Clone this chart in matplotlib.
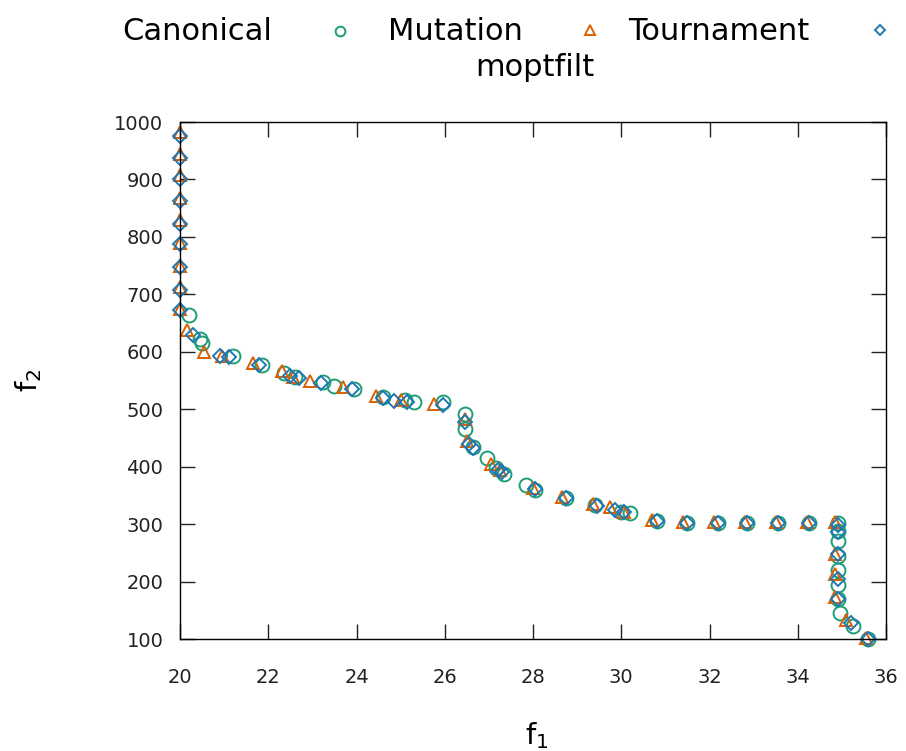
import matplotlib
matplotlib.use("Agg")
import matplotlib.pyplot as plt

# Canonical (circles)
can_x = [20.2, 20.45, 20.5, 21.2, 21.85, 22.35, 22.6, 23.25, 23.5, 23.95, 24.6, 25.1, 25.3,
         25.95, 26.45, 26.45, 26.65, 26.95, 27.15, 27.35, 27.85, 28.05, 28.75, 29.4, 30.0,
         30.2, 30.8, 31.5, 32.2, 32.85, 33.55, 34.25, 34.9, 34.9, 34.9, 34.9, 34.9, 34.9,
         34.9, 34.95, 35.25, 35.6]
can_y = [665, 622, 615, 592, 577, 563, 556, 548, 540, 535, 522, 517, 513,
         512, 492, 466, 435, 415, 398, 388, 368, 360, 345, 333, 322,
         320, 305, 302, 302, 302, 302, 302, 302, 288, 270, 245, 220, 195,
         170, 145, 122, 100]

# Mutation (triangles)
mut_x = [20.0, 20.0, 20.0, 20.0, 20.0, 20.0, 20.0, 20.0, 20.0, 20.15, 20.55, 20.95, 21.65,
         22.3, 22.55, 22.95, 23.7, 24.45, 25.0, 25.75, 26.45, 26.5, 27.05, 27.25, 28.0,
         28.65, 29.35, 29.75, 30.05, 30.7, 31.4, 32.1, 32.8, 33.5, 34.2, 34.85, 34.85,
         34.85, 34.85, 35.1, 35.55]
mut_y = [982, 945, 907, 867, 830, 790, 750, 712, 674, 638, 600, 592, 580,
         566, 557, 549, 538, 524, 517, 510, 483, 445, 405, 395, 363,
         348, 336, 330, 322, 307, 303, 303, 303, 303, 303, 303, 248,
         213, 173, 133, 102]

# Tournament (diamonds)
tou_x = [20.0, 20.0, 20.0, 20.0, 20.0, 20.0, 20.0, 20.0, 20.0, 20.3, 20.9, 21.1, 21.8,
         22.5, 22.7, 23.2, 23.9, 24.6, 24.85, 25.15, 25.95, 26.45, 26.55, 26.65, 27.2,
         27.3, 28.05, 28.75, 29.45, 29.85, 30.05, 30.8, 31.5, 32.2, 32.85, 33.55, 34.25,
         34.9, 34.9, 34.9, 34.9, 34.9, 35.2, 35.6]
tou_y = [975, 938, 900, 862, 822, 787, 747, 708, 672, 630, 592, 591, 577,
         558, 554, 546, 535, 520, 515, 512, 508, 478, 440, 432, 395,
         390, 362, 345, 332, 325, 322, 305, 302, 302, 302, 302, 302,
         298, 287, 248, 205, 170, 128, 100]

labels = ["Canonical", "Mutation", "Tournament", "moptfilt"]
colors = ["#1b9e77", "#d95f02", "#1f78b4"]

fig = plt.figure(figsize=(9.06, 7.51), dpi=100)
ax = fig.add_axes([0.1987, 0.149, 0.7793, 0.6885])

ax.plot(can_x, can_y, "o", ms=10, mfc="none", mec=colors[0], mew=1.4, clip_on=False)
ax.plot(mut_x, mut_y, "^", ms=9, mfc="none", mec=colors[1], mew=1.4, clip_on=False)
ax.plot(tou_x, tou_y, "D", ms=7, mfc="none", mec=colors[2], mew=1.4, clip_on=False)

ax.set_xlim(20, 36)
ax.set_ylim(100, 1000)
ax.set_xticks(range(20, 37, 2))
ax.set_yticks(range(100, 1001, 100))
ax.tick_params(direction="in", length=11, width=1, top=True, right=True, labelsize=14,
               colors="#222222")
ax.tick_params(axis="x", pad=21)
ax.tick_params(axis="y", pad=12)
for s in ax.spines.values():
    s.set_linewidth(1)

ax.set_xlabel("f$_1$", fontsize=21)
ax.set_ylabel("f$_2$", fontsize=21)
ax.xaxis.set_label_coords(0.505, -0.186)
ax.xaxis.label.set_va("center")
ax.yaxis.set_label_coords(-0.215, 0.50)
ax.yaxis.label.set_va("center")

# gnuplot-like key on top: text followed by its sample
fig.text(122 / 906, 1 - 31 / 751, labels[0], fontsize=22, va="center", ha="left")
fig.text(388 / 906, 1 - 31 / 751, labels[1], fontsize=22, va="center", ha="left")
fig.text(628 / 906, 1 - 31 / 751, labels[2], fontsize=22, va="center", ha="left")
fig.text(535 / 906, 1 - 68 / 751, labels[3], fontsize=22, va="center", ha="center")
key = fig.add_axes([0, 0, 1, 1], facecolor="none")
key.set_xlim(0, 906)
key.set_ylim(751, 0)
key.axis("off")
key.plot([340], [31], "o", ms=7, mfc="none", mec=colors[0], mew=1.4)
key.plot([590], [30], "^", ms=7, mfc="none", mec=colors[1], mew=1.4)
key.plot([880], [30], "D", ms=5.5, mfc="none", mec=colors[2], mew=1.4)

fig.savefig("out.png", dpi=100)
